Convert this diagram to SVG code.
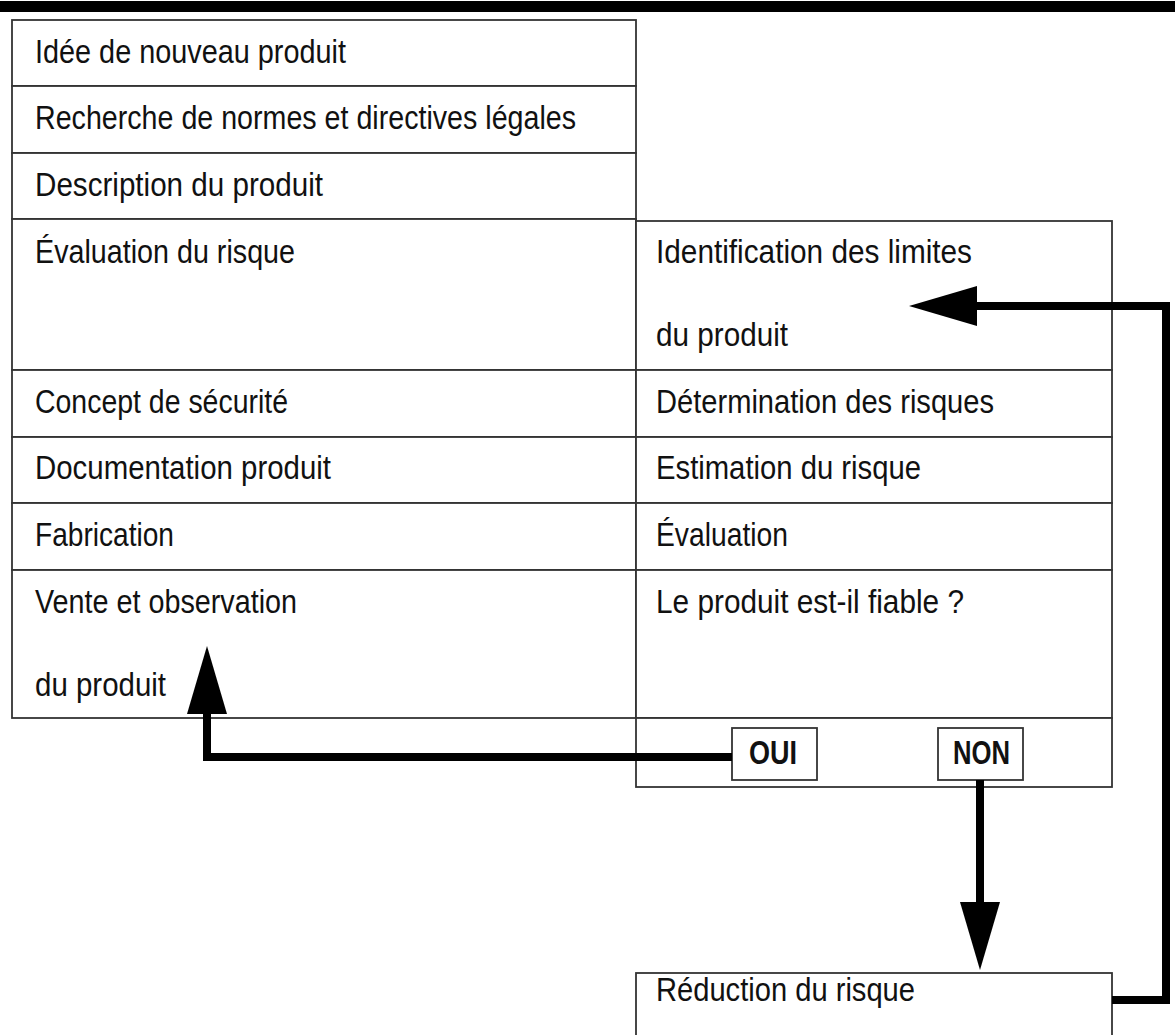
<svg xmlns="http://www.w3.org/2000/svg" width="1175" height="1035" viewBox="0 0 1175 1035">
<style>
.cell{fill:#fff;stroke:#333;stroke-width:1.8}
.t{font-family:"Liberation Sans",Arial,sans-serif;font-size:33px;fill:#111}
.b{font-family:"Liberation Sans",Arial,sans-serif;font-size:33px;font-weight:bold;fill:#111}
.c{fill:none;stroke:#000;stroke-width:8;stroke-linejoin:miter}
</style>
<defs>
<marker id="ah" viewBox="0 0 68 40" markerUnits="userSpaceOnUse" markerWidth="68" markerHeight="40" refX="0" refY="20" orient="auto">
<path d="M0,0 L68,20 L0,40 z" fill="#000"/>
</marker>
</defs>
<rect x="0" y="1" width="1175" height="11" fill="#000"/>

<g id="n-idee"><rect class="cell" x="12" y="20" width="624" height="66"/><text class="t" x="35" y="63" textLength="311" lengthAdjust="spacingAndGlyphs">Idée de nouveau produit</text></g>
<g id="n-recherche"><rect class="cell" x="12" y="86" width="624" height="67"/><text class="t" x="35" y="129" textLength="541" lengthAdjust="spacingAndGlyphs">Recherche de normes et directives légales</text></g>
<g id="n-description"><rect class="cell" x="12" y="153" width="624" height="66"/><text class="t" x="35" y="196" textLength="288" lengthAdjust="spacingAndGlyphs">Description du produit</text></g>
<g id="n-evaluation-risque"><rect class="cell" x="12" y="219" width="624" height="151"/><text class="t" x="35" y="263" textLength="260" lengthAdjust="spacingAndGlyphs">Évaluation du risque</text></g>
<g id="n-concept"><rect class="cell" x="12" y="370" width="624" height="67"/><text class="t" x="35" y="413" textLength="253" lengthAdjust="spacingAndGlyphs">Concept de sécurité</text></g>
<g id="n-documentation"><rect class="cell" x="12" y="437" width="624" height="66"/><text class="t" x="35" y="479" textLength="296" lengthAdjust="spacingAndGlyphs">Documentation produit</text></g>
<g id="n-fabrication"><rect class="cell" x="12" y="503" width="624" height="67"/><text class="t" x="35" y="546" textLength="139" lengthAdjust="spacingAndGlyphs">Fabrication</text></g>
<g id="n-vente"><rect class="cell" x="12" y="570" width="624" height="148"/><text class="t" x="35" y="613" textLength="262" lengthAdjust="spacingAndGlyphs">Vente et observation</text><text class="t" x="35" y="696" textLength="131" lengthAdjust="spacingAndGlyphs">du produit</text></g>

<g id="n-identification"><rect class="cell" x="636" y="221" width="476" height="149"/><text class="t" x="656" y="263" textLength="316" lengthAdjust="spacingAndGlyphs">Identification des limites</text><text class="t" x="656" y="346" textLength="132" lengthAdjust="spacingAndGlyphs">du produit</text></g>
<g id="n-determination"><rect class="cell" x="636" y="370" width="476" height="67"/><text class="t" x="656" y="413" textLength="338" lengthAdjust="spacingAndGlyphs">Détermination des risques</text></g>
<g id="n-estimation"><rect class="cell" x="636" y="437" width="476" height="66"/><text class="t" x="656" y="479" textLength="265" lengthAdjust="spacingAndGlyphs">Estimation du risque</text></g>
<g id="n-evaluation"><rect class="cell" x="636" y="503" width="476" height="67"/><text class="t" x="656" y="546" textLength="132" lengthAdjust="spacingAndGlyphs">Évaluation</text></g>
<g id="n-fiable"><rect class="cell" x="636" y="570" width="476" height="148"/><text class="t" x="656" y="613" textLength="308" lengthAdjust="spacingAndGlyphs">Le produit est-il fiable ?</text></g>
<g id="n-decision"><rect class="cell" x="636" y="718" width="476" height="69"/></g>
<g id="n-oui"><rect class="cell" x="732" y="728" width="85" height="52"/><text class="b" x="749" y="764" textLength="48" lengthAdjust="spacingAndGlyphs">OUI</text></g>
<g id="n-non"><rect class="cell" x="938" y="728" width="85" height="52"/><text class="b" x="953" y="764" textLength="57" lengthAdjust="spacingAndGlyphs">NON</text></g>
<g id="n-reduction"><rect class="cell" x="636" y="973" width="476" height="80"/><text class="t" x="656" y="1001" textLength="259" lengthAdjust="spacingAndGlyphs">Réduction du risque</text></g>

<g id="connectors">
<path class="c" d="M732,757 H207 V714" marker-end="url(#ah)"/>
<path class="c" d="M980,780 V902" marker-end="url(#ah)"/>
<path class="c" d="M1112,1000 H1166 V306 H977" marker-end="url(#ah)"/>
</g>
</svg>
